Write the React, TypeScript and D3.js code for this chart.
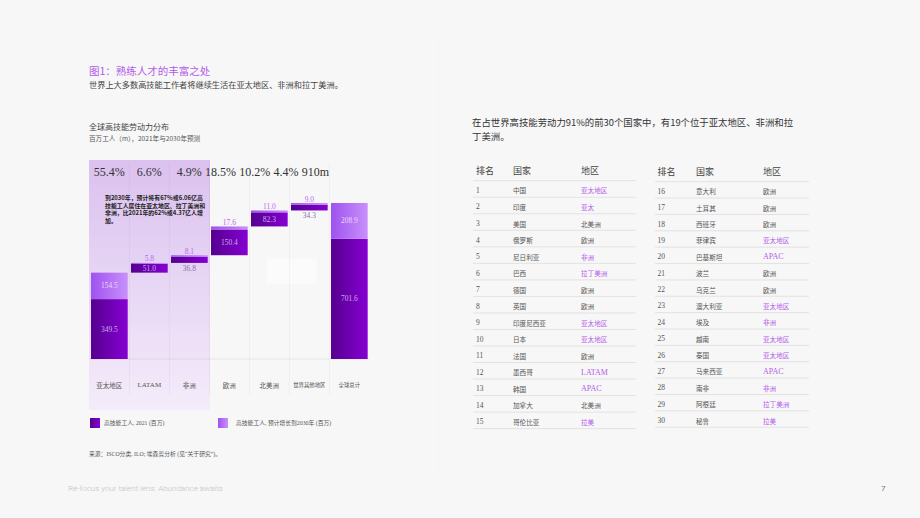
import * as d3 from 'd3';

// chart data (millions of high-skilled workers)
const categories = ['亚太地区', 'LATAM', '非洲', '欧洲', '北美洲', '世界其他地区', '全球总计'];
const workers2021 = [349.5, 51.0, 36.8, 150.4, 82.3, 34.3, 701.6];
const growth2030 = [154.5, 5.8, 8.1, 17.6, 11.0, 9.0, 208.9];
const shareLabels = ['55.4%', '6.6%', '4.9%', '18.5%', '10.2%', '4.4%', '910m'];

const noteLines = [
  '到2030年，预计将有67%或6.06亿高',
  '技能工人居住在亚太地区、拉丁美洲和',
  '非洲，比2021年的62%或4.37亿人增',
  '加。',
];

// top-30 table
const ranksLeft = ['1', '2', '3', '4', '5', '6', '7', '8', '9', '10', '11', '12', '13', '14', '15'];
const countriesLeft = ['中国', '印度', '美国', '俄罗斯', '尼日利亚', '巴西', '德国', '英国', '印度尼西亚', '日本', '法国', '墨西哥', '韩国', '加拿大', '哥伦比亚'];
const regionsLeft = ['亚太地区', '亚太', '北美洲', '欧洲', '非洲', '拉丁美洲', '欧洲', '欧洲', '亚太地区', '亚太地区', '欧洲', 'LATAM', 'APAC', '北美洲', '拉美'];
const ranksRight = ['16', '17', '18', '19', '20', '21', '22', '23', '24', '25', '26', '27', '28', '29', '30'];
const countriesRight = ['意大利', '土耳其', '西班牙', '菲律宾', '巴基斯坦', '波兰', '乌克兰', '澳大利亚', '埃及', '越南', '泰国', '马来西亚', '南非', '阿根廷', '秘鲁'];
const regionsRight = ['欧洲', '欧洲', '欧洲', '亚太地区', 'APAC', '欧洲', '欧洲', '亚太地区', '非洲', '亚太地区', '亚太地区', 'APAC', '非洲', '拉丁美洲', '拉美'];
const tableHeaders = ['排名', '国家', '地区'];

const SERIF = '"Liberation Serif", "Noto Sans CJK SC", serif';
const SANS = '"Noto Sans CJK SC", "Noto Sans", sans-serif';
const PURPLE = '#b35ce9';

// rough Times-like glyph widths, used to flow the share labels
const estWidth = (s: string, fs: number) =>
  s.split('').reduce((w, c) => w + (c === '.' ? 0.25 : c === '%' ? 0.833 : c === 'm' ? 0.778 : 0.5), 0) * fs;

function Table({ ranks, countries, regions, x0, top, rowH, cols }: any) {
  const y = d3.scaleLinear().domain([0, ranks.length]).range([top, top + rowH * ranks.length]);
  return (
    <g>
      {tableHeaders.map((h, i) => (
        <text key={h} x={cols[i]} y={top - 7} fontFamily={SANS} fontSize={9} fill="#444">{h}</text>
      ))}
      <line x1={x0} x2={x0 + cols[3]} y1={top} y2={top} stroke="#e2e2e2" />
      {ranks.map((r: string, i: number) => {
        const cy = (y(i) + y(i + 1)) / 2 + 1.5;
        const reg = regions[i];
        const gray = reg === '欧洲' || reg === '北美洲';
        const latin = /^[A-Z]/.test(reg);
        return (
          <g key={r}>
            <text x={cols[0]} y={cy} dominantBaseline="central" fontFamily={SERIF} fontSize={7.5} fill="#555">{r}</text>
            <text x={cols[1]} y={cy} dominantBaseline="central" fontFamily={SANS} fontSize={6.6} fill="#555">{countries[i]}</text>
            <text x={cols[2]} y={cy} dominantBaseline="central" fontFamily={latin ? SERIF : SANS}
              fontSize={latin ? 8 : 6.6} fill={gray ? '#555' : PURPLE}>{reg}</text>
            <line x1={x0} x2={x0 + cols[3]} y1={y(i + 1)} y2={y(i + 1)} stroke="#e2e2e2" />
          </g>
        );
      })}
    </g>
  );
}

export default function App() {
  const W = 920, H = 518;
  const baseY = 359;

  const x = d3.scaleBand<string>().domain(categories).range([87.7, 371]).paddingInner(0.083).paddingOuter(0.083);
  const y = d3.scaleLinear().domain([0, 910.5]).range([baseY, 203]);

  // waterfall bases
  const bases: number[] = [];
  let cum = 0;
  categories.forEach((_, i) => {
    if (i === categories.length - 1) bases.push(0);
    else { bases.push(cum); cum += workers2021[i] + growth2030[i]; }
  });

  // share label positions: centred in band, then flowing when they overflow
  const shareX: number[] = [];
  let prevEnd = 0;
  shareLabels.forEach((s, i) => {
    const w = estWidth(s, 12);
    const cx = x(categories[i])! + x.bandwidth() / 2 - w / 2;
    const sx = i < 3 ? cx : prevEnd + 3.2;
    shareX.push(sx);
    prevEnd = sx + w;
  });

  const gridXs = categories.slice(1).map(c => x(c)! - (x.step() - x.bandwidth()) / 2);

  return (
    <svg width={W} height={H} style={{ position: 'absolute', left: 0, top: 0 }}>
      <defs>
        <linearGradient id="dark" x1="0" x2="1" y1="0" y2="0">
          <stop offset="0%" stopColor="#55008f" />
          <stop offset="100%" stopColor="#8600d2" />
        </linearGradient>
        <linearGradient id="light" x1="0" x2="1" y1="0" y2="0">
          <stop offset="0%" stopColor="#9f52ee" />
          <stop offset="100%" stopColor="#c890fb" />
        </linearGradient>
        <linearGradient id="hl" x1="0" x2="0" y1="0" y2="1">
          <stop offset="0%" stopColor="#dbc1ef" />
          <stop offset="100%" stopColor="#f4ecfa" />
        </linearGradient>
      </defs>
      <rect width={W} height={H} fill="#f7f7f7" />
      <line x1={438} x2={438} y1={40} y2={470} stroke="#f3f3f3" />

      {/* headings */}
      <text x={89} y={75} fontFamily={SANS} fontSize={10.5} fill={PURPLE}>图1：熟练人才的丰富之处</text>
      <text x={89} y={88} fontFamily={SANS} fontSize={8.2} fill="#444">世界上大多数高技能工作者将继续生活在亚太地区、非洲和拉丁美洲。</text>
      <text x={89} y={130} fontFamily={SANS} fontSize={8} fill="#444">全球高技能劳动力分布</text>
      <text x={89} y={141} fontFamily={SANS} fontSize={6.6} fill="#555">百万工人（m），2021年与2030年预测</text>

      {/* highlight panel */}
      <rect x={89} y={160} width={121} height={250} fill="url(#hl)" />
      <rect x={266.7} y={259} width={50} height={25} fill="#fcfcfc" opacity={0.7} />
      {gridXs.map(gx => (
        <line key={gx} x1={gx} x2={gx} y1={163} y2={395} stroke="#000" strokeOpacity={0.04} />
      ))}
      <line x1={89} x2={369} y1={baseY} y2={baseY} stroke="#000" strokeOpacity={0.07} />

      {/* share labels */}
      {shareLabels.map((s, i) => (
        <text key={s} x={shareX[i]} y={176} fontFamily={SERIF} fontSize={12} fill="#333">{s}</text>
      ))}

      {/* note */}
      {noteLines.map((l, i) => (
        <text key={i} x={105} y={200 + i * 7.7} fontFamily={SANS} fontSize={5.9} fontWeight="bold" fill="#222">{l}</text>
      ))}

      {/* bars */}
      {categories.map((c, i) => {
        const bx = x(c)!;
        const bw = x.bandwidth();
        const b = bases[i];
        const dTop = y(b + workers2021[i]);
        const dBot = y(b);
        const lTop = y(b + workers2021[i] + growth2030[i]);
        const cx = bx + bw / 2;
        const dh = dBot - dTop;
        const lh = dTop - lTop;
        return (
          <g key={c}>
            <rect x={bx} y={dTop} width={bw} height={dh} fill="url(#dark)" />
            <rect x={bx} y={lTop} width={bw} height={lh} fill="url(#light)" />
            {lh > 12 ? (
              <text x={cx} y={(lTop + dTop) / 2} dominantBaseline="central" textAnchor="middle" fontFamily={SERIF} fontSize={7.5} fill="#ead7fb">{growth2030[i].toFixed(1)}</text>
            ) : (
              <text x={cx} y={lTop - 4} dominantBaseline="central" textAnchor="middle" fontFamily={SERIF} fontSize={7.5} fill="#b768ef">{growth2030[i].toFixed(1)}</text>
            )}
            {dh > 8 ? (
              <text x={cx} y={(dTop + dBot) / 2} dominantBaseline="central" textAnchor="middle" fontFamily={SERIF} fontSize={7.5} fill="#cfa9ee">{workers2021[i].toFixed(1)}</text>
            ) : (
              <text x={cx} y={dBot + 5.5} dominantBaseline="central" textAnchor="middle" fontFamily={SERIF} fontSize={7.5} fill="#8b6fa6">{workers2021[i].toFixed(1)}</text>
            )}
            <text x={cx} y={385} dominantBaseline="central" textAnchor="middle" fontFamily={SERIF}
              fontSize={i >= 5 ? 5.4 : c === 'LATAM' ? 7 : 6.5} fill="#555">{c}</text>
          </g>
        );
      })}

      {/* legend */}
      <rect x={90} y={418} width={10} height={10} fill="url(#dark)" />
      <text x={104} y={423} dominantBaseline="central" fontFamily={SERIF} fontSize={5.8} fill="#555">高技能工人, 2021 (百万)</text>
      <rect x={218} y={418} width={10} height={10} fill="url(#light)" />
      <text x={236} y={423} dominantBaseline="central" fontFamily={SERIF} fontSize={5.8} fill="#555">高技能工人, 预计增长到2030年 (百万)</text>

      <text x={89} y={454} dominantBaseline="central" fontFamily={SERIF} fontSize={5.8} fill="#555">来源：ISCO分类, ILO; 埃森哲分析 (见“关于研究”)。</text>

      {/* right side */}
      <text x={472} y={126} fontFamily={SANS} fontSize={9.4} fill="#333">在占世界高技能劳动力91%的前30个国家中，有19个位于亚太地区、非洲和拉</text>
      <text x={472} y={140} fontFamily={SANS} fontSize={9.4} fill="#333">丁美洲。</text>

      <Table ranks={ranksLeft} countries={countriesLeft} regions={regionsLeft} x0={473} top={180.7} rowH={16.53}
        cols={[476, 513, 581, 163]} />
      <Table ranks={ranksRight} countries={countriesRight} regions={regionsRight} x0={655} top={181.7} rowH={16.37}
        cols={[657.5, 696, 763, 154]} />

      {/* footer */}
      <text x={68} y={491} fontFamily="Roboto, sans-serif" fontWeight={300} fontSize={8} fill="#c2c2c2">Re-focus your talent lens: Abundance awaits</text>
      <text x={881} y={491} fontFamily="Roboto, sans-serif" fontSize={8} fill="#777">7</text>
    </svg>
  );
}
